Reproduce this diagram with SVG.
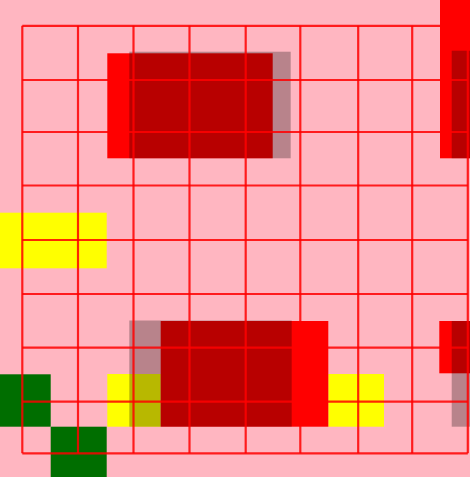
<svg xmlns="http://www.w3.org/2000/svg" width="470" height="477" viewBox="0 0 470 477">
  <style>
    .red { fill: #ff0000; }
    .yel { fill: #ffff00; }
    .grn { fill: #006e00; }
    .shd { fill: #000000; fill-opacity: 0.28; }
    .grid line { stroke: #ff0000; stroke-width: 2.2; stroke-opacity: 0.85; }
  </style>
  <rect x="0" y="0" width="470" height="477" fill="#ffb6c1"/>
  <g id="fills">
    <rect class="yel" x="0" y="212.7" width="106.7" height="55.6"/>
    <rect class="yel" x="107.3" y="374" width="53.4" height="52.7"/>
    <rect class="yel" x="328.3" y="374" width="55.7" height="52.7"/>
    <rect class="grn" x="0" y="374.3" width="50.7" height="52.4"/>
    <rect class="grn" x="50.7" y="426.7" width="56" height="50.3"/>
    <rect class="red" x="107.3" y="53.3" width="165.4" height="105"/>
    <rect class="red" x="440" y="0" width="30" height="158.3"/>
    <rect class="red" x="160.7" y="321" width="167.6" height="105.7"/>
    <rect class="red" x="439.3" y="321" width="30.7" height="52.3"/>
  </g>
  <g id="shadows">
    <rect class="shd" x="129.3" y="51.7" width="161.4" height="106.6"/>
    <rect class="shd" x="451.7" y="50.7" width="18.3" height="107.6"/>
    <rect class="shd" x="129.3" y="320.5" width="162.4" height="106.2"/>
    <rect class="shd" x="451.7" y="321" width="18.3" height="105.7"/>
  </g>
  <g id="grid" class="grid">
    <line x1="22.3" y1="25.8" x2="22.3" y2="453.3"/>
    <line x1="78" y1="25.8" x2="78" y2="453.3"/>
    <line x1="133.5" y1="25.8" x2="133.5" y2="453.3"/>
    <line x1="189.5" y1="25.8" x2="189.5" y2="453.3"/>
    <line x1="245.7" y1="25.8" x2="245.7" y2="453.3"/>
    <line x1="300.3" y1="25.8" x2="300.3" y2="453.3"/>
    <line x1="358.2" y1="25.8" x2="358.2" y2="453.3"/>
    <line x1="412.2" y1="25.8" x2="412.2" y2="453.3"/>
    <line x1="467.8" y1="25.8" x2="467.8" y2="453.3"/>
    <line x1="22.3" y1="25.8" x2="467.8" y2="25.8"/>
    <line x1="22.3" y1="80" x2="467.8" y2="80"/>
    <line x1="22.3" y1="132" x2="467.8" y2="132"/>
    <line x1="22.3" y1="185.5" x2="467.8" y2="185.5"/>
    <line x1="22.3" y1="240" x2="467.8" y2="240"/>
    <line x1="22.3" y1="294" x2="467.8" y2="294"/>
    <line x1="22.3" y1="347.7" x2="467.8" y2="347.7"/>
    <line x1="22.3" y1="401.7" x2="467.8" y2="401.7"/>
    <line x1="22.3" y1="453.3" x2="467.8" y2="453.3"/>
  </g>
</svg>
